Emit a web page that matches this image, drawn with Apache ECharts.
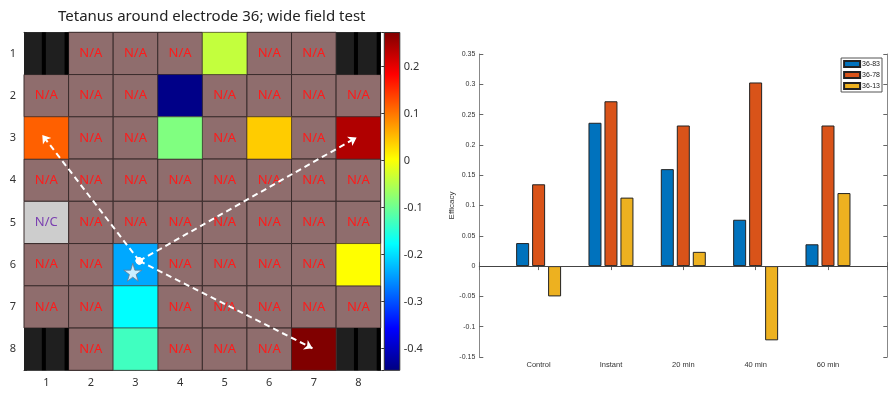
<!DOCTYPE html>
<html><head><meta charset="utf-8">
<script src="https://cdn.jsdelivr.net/npm/echarts@6/dist/echarts.min.js"></script>
<style>html,body{margin:0;padding:0;background:#fff}#c{width:891px;height:393px}</style>
</head><body><div id="c"></div>
<script>
// ---- heatmap data ----
const gridTicks = ['1','2','3','4','5','6','7','8'];
const cornerCells = [[1,1],[8,1],[1,8],[8,8]];          // [col,row]
const ncCells = [[1,5]];
const measuredCells = [[5,1,-0.04],[4,2,-0.44],[1,3,0.115],[4,3,-0.087],[6,3,0.039],[8,3,0.238],
                       [3,6,-0.238],[8,6,0.003],[3,7,-0.177],[3,8,-0.132],[7,8,0.272]];
const colorbarRange = [-0.446, 0.272];
const arrowStart = [3.085, 5.91];
const arrowEnds = [[0.91, 2.93],[7.96, 2.99],[6.97, 7.98]];
const starPos = [2.94, 6.18];
// ---- bar chart data ----
const timepoints = ['Control','Instant','20 min','40 min','60 min'];
const seriesNames = ['36-83','36-78','36-13'];
const eff3683 = [0.038, 0.2365, 0.16, 0.0765, 0.036];
const eff3678 = [0.135, 0.272, 0.232, 0.303, 0.232];
const eff3613 = [-0.05, 0.113, 0.0235, -0.1225, 0.1205];

const jet = ['#000080','#0000ff','#0080ff','#00ffff','#80ff80','#ffff00','#ff8000','#ff0000','#800000'];
const barColors = ['#0072BD','#D95319','#EDB120'];
const FONT = '"Noto Sans", sans-serif';

const used = {};
cornerCells.concat(ncCells, measuredCells).forEach(c => used[c[0]+','+c[1]] = true);
const naCells = [];
for (let r = 1; r <= 8; r++) for (let c = 1; c <= 8; c++) if (!used[c+','+r]) naCells.push([c, r]);

function cellRect(api) {
  const c = api.value(0), r = api.value(1);
  const p0 = api.coord([c - 0.5, r - 0.5]), p1 = api.coord([c + 0.5, r + 0.5]);
  return {x: Math.min(p0[0], p1[0]), y: Math.min(p0[1], p1[1]),
          width: Math.abs(p1[0] - p0[0]), height: Math.abs(p1[1] - p0[1])};
}
const gridStroke = '#3a2c2c';

function renderNA(params, api) {
  const s = cellRect(api);
  return {type: 'group', children: [
    {type: 'rect', shape: s, style: {fill: '#8f6d6d', stroke: gridStroke, lineWidth: 1}},
    {type: 'text', style: {text: 'N/A', x: s.x + s.width/2, y: s.y + s.height/2, align: 'center',
      verticalAlign: 'middle', fill: '#ff1a1a', font: '13px ' + FONT}}
  ]};
}
function renderNC(params, api) {
  const s = cellRect(api);
  return {type: 'group', children: [
    {type: 'rect', shape: s, style: {fill: '#cdcdcd', stroke: gridStroke, lineWidth: 1}},
    {type: 'text', style: {text: 'N/C', x: s.x + s.width/2, y: s.y + s.height/2, align: 'center',
      verticalAlign: 'middle', fill: '#7a3fb0', font: '13px ' + FONT}}
  ]};
}
function renderCorner(params, api) {
  const s = cellRect(api);
  return {type: 'group', children: [
    {type: 'rect', shape: s, style: {fill: '#1f1f1f'}},
    {type: 'rect', shape: {x: s.x + s.width*0.40, y: s.y, width: s.width*0.09, height: s.height}, style: {fill: '#000'}},
    {type: 'rect', shape: {x: s.x + s.width*0.91, y: s.y, width: s.width*0.09, height: s.height}, style: {fill: '#000'}}
  ]};
}
function renderMeasured(params, api) {
  const s = cellRect(api);
  return {type: 'rect', shape: s, style: {fill: api.visual('color'), stroke: gridStroke, lineWidth: 0.6}};
}
function renderColorbar(params, api) {
  const p0 = api.coord([0, colorbarRange[0]]), p1 = api.coord([1, colorbarRange[1]]);
  const stops = jet.map((c, i) => ({offset: i / (jet.length - 1), color: c}));
  return {type: 'rect', shape: {x: p0[0], y: p1[1], width: p1[0] - p0[0], height: p0[1] - p1[1]},
    style: {fill: {type: 'linear', x: 0, y: 1, x2: 0, y2: 0, colorStops: stops}, stroke: '#333', lineWidth: 1}};
}

const hmLabel = v => Number.isInteger(v) && v >= 1 && v <= 8 ? gridTicks[v - 1] : '';
const axisLineGray = {show: true, lineStyle: {color: '#555', width: 1}};

const option = {
  animation: false,
  backgroundColor: '#fff',
  title: {text: 'Tetanus around electrode 36; wide field test', left: 53, top: 4,
    textStyle: {fontFamily: FONT, fontSize: 15, fontWeight: 'normal', color: '#222'}},
  legend: {data: seriesNames, orient: 'vertical', right: 9, top: 58, itemWidth: 16, itemHeight: 6, itemGap: 3,
    icon: 'rect', borderColor: '#555', borderWidth: 1, padding: [2, 2, 2, 2],
    textStyle: {fontFamily: 'Liberation Sans', fontSize: 7, color: '#222', padding: [0, 0, 0, -3]}},
  grid: [
    {left: 24, top: 32.3, width: 356.7, height: 338},
    {left: 384.3, top: 32.5, width: 15.5, height: 337.8},
    {left: 479.3, top: 54, width: 408, height: 303}
  ],
  visualMap: [{type: 'continuous', show: false, seriesIndex: 3, dimension: 2,
    min: colorbarRange[0], max: colorbarRange[1], inRange: {color: jet}}],
  xAxis: [
    {gridIndex: 0, type: 'value', min: 0.5, max: 8.5, minInterval: 1, maxInterval: 1, splitLine: {show: false},
      axisLine: axisLineGray, axisTick: {inside: true, length: 3, lineStyle: {color: '#333'}},
      axisLabel: {formatter: hmLabel, fontFamily: FONT, fontSize: 11, color: '#333', margin: 7}},
    {gridIndex: 0, type: 'value', position: 'top', min: 0.5, max: 8.5, minInterval: 1, maxInterval: 1,
      splitLine: {show: false}, axisLine: axisLineGray, axisTick: {inside: true, length: 3, lineStyle: {color: '#333'}},
      axisLabel: {show: false}},
    {gridIndex: 1, type: 'value', min: 0, max: 1, show: false},
    {gridIndex: 2, type: 'value', min: 0.18, max: 5.82, minInterval: 1, maxInterval: 1, splitLine: {show: false},
      axisLine: {show: true, lineStyle: {color: '#888'}}, axisTick: {inside: true, length: 4, lineStyle: {color: '#666'}},
      axisLabel: {formatter: v => Number.isInteger(v) && v >= 1 && v <= 5 ? timepoints[v - 1] : '',
        fontFamily: 'Liberation Sans', fontSize: 7.5, color: '#333', margin: 4}},
    {gridIndex: 2, type: 'value', position: 'top', min: 0.18, max: 5.82, minInterval: 1, maxInterval: 1,
      splitLine: {show: false}, axisLine: {show: true, lineStyle: {color: '#888'}},
      axisTick: {inside: true, length: 4, lineStyle: {color: '#666'}}, axisLabel: {show: false}}
  ],
  yAxis: [
    {gridIndex: 0, type: 'value', inverse: true, min: 0.5, max: 8.5, minInterval: 1, maxInterval: 1,
      splitLine: {show: false}, axisLine: axisLineGray, axisTick: {inside: true, length: 3, lineStyle: {color: '#333'}},
      axisLabel: {formatter: hmLabel, fontFamily: FONT, fontSize: 11, color: '#333', margin: 8}},
    {gridIndex: 0, type: 'value', position: 'right', inverse: true, min: 0.5, max: 8.5, minInterval: 1, maxInterval: 1,
      splitLine: {show: false}, axisLine: axisLineGray, axisTick: {inside: true, length: 3, lineStyle: {color: '#333'}},
      axisLabel: {show: false}},
    {gridIndex: 1, type: 'value', position: 'right', min: colorbarRange[0], max: colorbarRange[1], splitNumber: 7,
      splitLine: {show: false}, axisLine: {show: false},
      axisTick: {inside: true, length: 3, lineStyle: {color: '#333'}},
      axisLabel: {formatter: v => Math.abs(v * 10 - Math.round(v * 10)) < 1e-6 ? String(Math.round(v * 10) / 10) : '',
        fontFamily: FONT, fontSize: 11, color: '#333', margin: 4}},
    {gridIndex: 2, type: 'value', min: -0.15, max: 0.35, interval: 0.05, splitLine: {show: false},
      name: 'Efficacy', nameLocation: 'middle', nameRotate: 90, nameGap: 24,
      nameTextStyle: {fontFamily: 'Liberation Sans', fontSize: 8, color: '#333'},
      axisLine: {show: true, lineStyle: {color: '#888'}}, axisTick: {inside: true, length: 4, lineStyle: {color: '#666'}},
      axisLabel: {fontFamily: 'Liberation Sans', fontSize: 7, color: '#333', margin: 4}},
    {gridIndex: 2, type: 'value', position: 'right', min: -0.15, max: 0.35, interval: 0.05, splitLine: {show: false},
      axisLine: {show: true, lineStyle: {color: '#888'}}, axisTick: {inside: true, length: 4, lineStyle: {color: '#666'}},
      axisLabel: {show: false}}
  ],
  series: [
    {type: 'custom', xAxisIndex: 0, yAxisIndex: 0, renderItem: renderNA, data: naCells, silent: true, z: 1},
    {type: 'custom', xAxisIndex: 0, yAxisIndex: 0, renderItem: renderNC, data: ncCells, silent: true, z: 1},
    {type: 'custom', xAxisIndex: 0, yAxisIndex: 0, renderItem: renderCorner, data: cornerCells, silent: true, z: 1},
    {type: 'custom', xAxisIndex: 0, yAxisIndex: 0, renderItem: renderMeasured, data: measuredCells, silent: true, z: 2},
    {type: 'custom', xAxisIndex: 2, yAxisIndex: 2, renderItem: renderColorbar, data: [[0]], silent: true},
    {type: 'lines', coordinateSystem: 'cartesian2d', xAxisIndex: 0, yAxisIndex: 0, z: 5, silent: true,
      symbol: ['circle', 'arrow'], symbolSize: [7, 8],
      lineStyle: {color: '#ffffff', width: 2, type: [6, 4], opacity: 1},
      data: arrowEnds.map(e => ({coords: [arrowStart, e]}))},
    {type: 'scatter', xAxisIndex: 0, yAxisIndex: 0, z: 6, silent: true,
      symbol: 'path://M50,0 L61,35 L98,35 L68,57 L79,91 L50,70 L21,91 L32,57 L2,35 L39,35 Z', symbolSize: 18,
      itemStyle: {color: '#ffffff', borderColor: '#6a7a90', borderWidth: 1}, data: [starPos]},
    {type: 'bar', name: seriesNames[0], xAxisIndex: 3, yAxisIndex: 3, barWidth: 13, barGap: '23%',
      itemStyle: {color: barColors[0], borderColor: '#222', borderWidth: 1},
      data: eff3683.map((v, i) => [i + 1, v]),
      markLine: {silent: true, symbol: 'none', label: {show: false}, lineStyle: {color: '#444', width: 1, type: 'solid'},
        data: [{yAxis: 0}]}},
    {type: 'bar', name: seriesNames[1], xAxisIndex: 3, yAxisIndex: 3, barWidth: 13, barGap: '23%',
      itemStyle: {color: barColors[1], borderColor: '#222', borderWidth: 1},
      data: eff3678.map((v, i) => [i + 1, v])},
    {type: 'bar', name: seriesNames[2], xAxisIndex: 3, yAxisIndex: 3, barWidth: 13, barGap: '23%',
      itemStyle: {color: barColors[2], borderColor: '#222', borderWidth: 1},
      data: eff3613.map((v, i) => [i + 1, v])}
  ]
};
echarts.init(document.getElementById('c'), null, {renderer: 'canvas'}).setOption(option);
</script></body></html>
